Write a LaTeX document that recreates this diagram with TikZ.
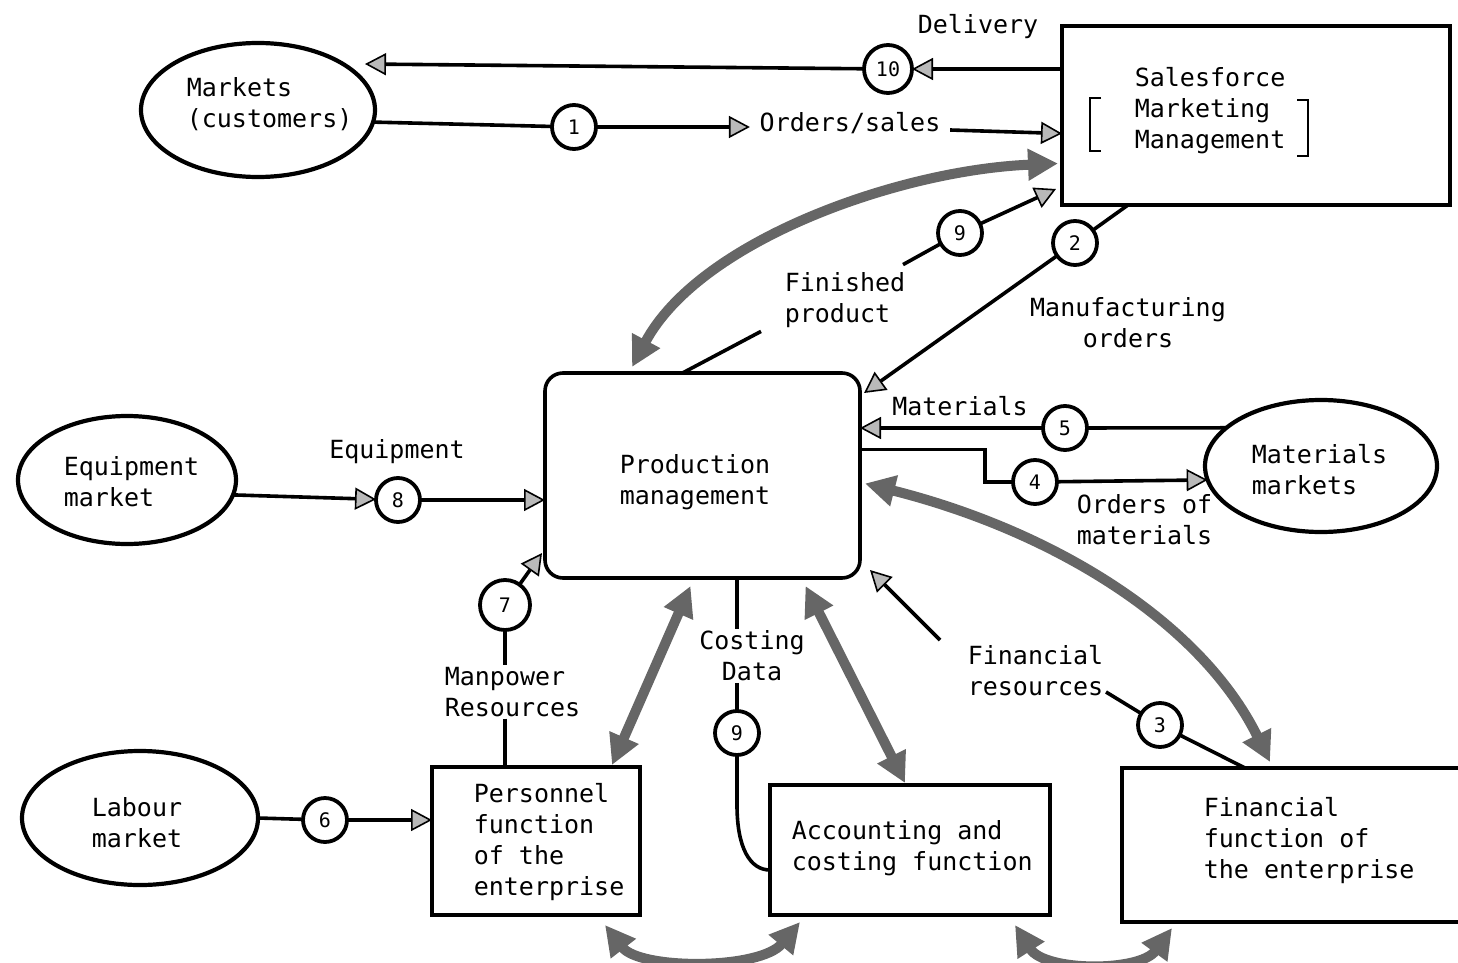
\documentclass[tikz,border=0pt]{standalone}
\usepackage{fontspec}
\setmainfont{DejaVu Sans Mono}
\usetikzlibrary{arrows.meta,shapes.geometric,calc}
\begin{document}
\begin{tikzpicture}[x=1pt,y=-1pt,
  every node/.style={font=\fontsize{25}{31}\selectfont},
  line width=3.6pt,
  txt/.style={inner sep=0pt, align=left},
  box/.style={draw, line width=3.6pt, inner sep=0pt, outer sep=0pt},
  mkt/.style={ellipse, draw, line width=4.2pt, inner sep=0pt, outer sep=0pt},
  num/.style={circle, draw, line width=3.8pt, minimum size=44pt, inner sep=0pt, outer sep=0pt, font=\fontsize{20}{22}\selectfont},
  arr/.style={-{Triangle[length=21pt,width=22pt,line width=1.6pt,fill=gray!55]}},
  fatd/.style={line width=10pt, draw=black!60,
    {Triangle[length=30pt,width=30pt,fill=black!60]}-{Triangle[length=30pt,width=30pt,fill=black!60]}}
]
\useasboundingbox (0,0) rectangle (1458,963);

% main shapes
\node[mkt, minimum width=234pt, minimum height=134pt] (markets) at (258,110) {};
\node[txt, anchor=west] (marketsT) at (185,104) {Markets\\(customers)};

\node[box, minimum width=388pt, minimum height=179pt] (sales) at (1256,115.5) {};
\node[txt, anchor=west] (salesT) at (1133,111) {Salesforce\\Marketing\\Management};
\draw[line width=2.6pt] (1101,98) -- (1090,98) -- (1090,151) -- (1101,151);
\draw[line width=2.6pt] (1297,100) -- (1308,100) -- (1308,156) -- (1297,156);

\node[box, rounded corners=18pt, minimum width=315pt, minimum height=205pt] (prod) at (702.5,475.5) {};
\node[txt, align=center] (prodT) at (695,482) {Production\\management};

\node[mkt, minimum width=232pt, minimum height=132pt] (matmk) at (1321,466) {};
\node[txt, anchor=west] (matmkT) at (1250,470) {Materials\\markets};

\node[mkt, minimum width=218pt, minimum height=128pt] (equip) at (127,480) {};
\node[txt, anchor=west] (equipT) at (62,482) {Equipment\\market};

\node[mkt, minimum width=236pt, minimum height=134pt] (labour) at (140,818) {};
\node[txt, align=center] (labourT) at (137,823) {Labour\\market};

\node[box, minimum width=208pt, minimum height=148pt] (pers) at (536,841) {};
\node[txt, anchor=west] (persT) at (472,842) {Personnel\\function\\of the\\enterprise};

\node[box, minimum width=280pt, minimum height=130pt] (acc) at (910,850) {};
\node[txt, anchor=west] (accT) at (790,848) {Accounting and\\costing function};

\node[inner sep=0pt, outer sep=0pt, minimum width=336pt, minimum height=154pt] (fin) at (1290,845) {};
\draw[line width=3.6pt] (fin.north east) -- (fin.north west) -- (fin.south west) -- (fin.south east);
\node[txt, anchor=west] (finT) at (1202,841) {Financial\\function of\\the enterprise};

% numbered circles
\node[num, minimum size=48pt] (c10) at (888,69) {10};
\node[num] (c1) at (574,127) {1};
\node[num] (c9a) at (960,233) {9};
\node[num] (c2) at (1075,243) {2};
\node[num] (c5) at (1065,428) {5};
\node[num] (c4) at (1035,482) {4};
\node[num] (c8) at (398,500) {8};
\node[num, minimum size=50pt] (c7) at (505,605) {7};
\node[num] (c9b) at (737,733) {9};
\node[num] (c3) at (1160,725) {3};
\node[num] (c6) at (325,820) {6};

% labels
\node[txt] (deliv) at (978,27) {Delivery};
\node[txt] (ordsales) at (850,123) {Orders/sales};
\node[txt, anchor=west] (finprod) at (783,300) {Finished\\product};
\node[txt, align=center] (manuf) at (1128,323) {Manufacturing\\orders};
\node[txt] (matT) at (960,406) {Materials};
\node[txt, anchor=west] (ordmat) at (1075,520) {Orders of\\materials};
\node[txt] (equipL) at (397,452) {Equipment};
\node[txt, anchor=west] (manp) at (443,692) {Manpower\\Resources};
\node[txt, align=center] (cost) at (752,656) {Costing\\Data};
\node[txt, anchor=west] (finres) at (966,671) {Financial\\resources};

% coordinates for free ends
\coordinate (s10) at (sales.west |- c10);
\coordinate (mk10) at (365,64);
\coordinate (s1) at ($(sales.west)+(0,18)$);
\coordinate (fa1) at ($(prod.north west)+(87,-6)$);
\coordinate (fa2) at ($(sales.west)+(-4,48)$);
\coordinate (fp0) at ($(prod.north)+(-20,0)$);
\coordinate (s9) at ($(sales.south west)+(-6,-16)$);
\coordinate (s2) at ($(sales.south)+(-128,0)$);
\coordinate (p2) at ($(prod.north east)+(4,20)$);
\coordinate (p4) at ($(prod.east)+(0,-26)$);
\coordinate (fb1) at ($(prod.east)+(5,8)$);
\coordinate (fb2) at ($(fin.north)+(-20,-6)$);
\coordinate (fr0) at (940,640);
\coordinate (fr1) at (1106,692);
\coordinate (f3) at ($(fin.north)+(-45,0)$);

% connectors
\draw[arr] (s10) -- (c10);
\draw[arr] (c10) -- (mk10);
\draw (markets.-6) -- (c1);
\draw[arr] (c1) -- ($(ordsales.west)+(-8,4)$);
\draw[arr] ($(ordsales.east)+(8,7)$) -- (s1);

\draw[fatd] (fa1) .. controls (700,240) and (900,170) .. (fa2);

\draw (fp0) -- ($(finprod.south west)+(-22,2)$);
\draw ($(finprod.north east)+(-4,-6)$) -- (c9a);
\draw[arr] (c9a) -- (s9);

\draw (s2) -- (c2);
\draw[arr] (c2) -- (p2);

\draw (matmk.158) -- (c5);
\draw[arr] (c5) -- (prod.east |- c5);

\draw (p4) -- ++(125,0) |- (c4);
\draw[arr] (c4) -- (matmk.187);

\draw[fatd] (fb1) .. controls (1050,530) and (1200,620) .. (fb2);

\draw[arr] (fr0) -- ($(prod.south east)+(10,-8)$);
\draw (fr1) -- (c3);
\draw (c3) -- (f3);

\draw[arr] (equip.-8) -- (c8);
\draw[arr] (c8) -- (prod.west |- c8);

\draw[arr] (c7) -- ($(prod.south west)+(-3,-25)$);
\draw (c7) -- (c7 |- manp.north);
\draw (c7 |- manp.south) -- (c7 |- pers.north);

\draw (labour.east) -- (c6);
\draw[arr] (c6) -- (pers.west |- c6);

\draw[fatd] ($(pers.north)+(76,-2)$) -- ($(prod.south)+(-12,8)$);

\draw (c9b |- prod.south) -- (c9b |- cost.north);
\draw (c9b |- cost.south) -- (c9b);
\draw (c9b) -- (737,805) .. controls (737,848) and (750,870) .. ($(acc.west)+(0,20)$);

\draw[fatd] ($(prod.south)+(103,8)$) -- ($(acc.north)+(-5,-2)$);

\draw[fatd] ($(pers.south)+(69,10)$) .. controls (640,970) and (760,970) .. ($(acc.south)+(-110,7)$);
\draw[fatd] ($(acc.south)+(105,10)$) .. controls (1045,972) and (1140,972) .. ($(fin.south)+(-118,6)$);
\end{tikzpicture}
\end{document}
